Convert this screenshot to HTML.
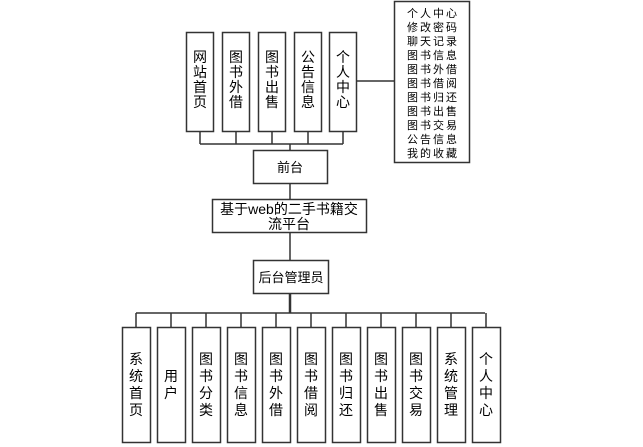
<!DOCTYPE html>
<html><head><meta charset="utf-8"><style>
body{margin:0;background:#fff;}
svg{display:block}
text{font-family:"Liberation Sans","Noto Sans CJK SC",sans-serif;fill:#000}
</style></head><body>
<svg width="643" height="447" viewBox="0 0 643 447" xmlns="http://www.w3.org/2000/svg">
<g stroke="#333" stroke-width="1.5" fill="none">
<!-- top boxes -->
<rect x="186.5" y="32.5" width="27" height="99"/>
<rect x="222.5" y="32.5" width="27" height="99"/>
<rect x="258.5" y="32.5" width="27" height="99"/>
<rect x="294.5" y="32.5" width="27" height="99"/>
<rect x="329.5" y="32.5" width="27" height="99"/>
<path d="M200 131V144M236 131V144M272 131V144M308 131V144M343 131V144M200 144H343M290 144V150"/>
<path d="M356 81H394"/>
<rect x="394.5" y="1.5" width="75" height="161"/>
<rect x="253.5" y="150.5" width="74" height="33"/>
<path d="M290 183V199"/>
<rect x="212.5" y="199.5" width="154" height="33"/>
<path d="M290 232V260"/>
<rect x="253.5" y="260.5" width="75" height="33"/>
<path d="M290 293V313" stroke-width="2.5"/>
<path d="M136 313H485"/>
<path d="M136 313V327M171 313V327M206 313V327M241 313V327M276 313V327M311 313V327M346 313V327M381 313V327M416 313V327M451 313V327M486 313V327"/>
<rect x="122.5" y="327.5" width="28" height="115"/>
<rect x="157.5" y="327.5" width="28" height="115"/>
<rect x="192.5" y="327.5" width="28" height="115"/>
<rect x="227.5" y="327.5" width="28" height="115"/>
<rect x="262.5" y="327.5" width="28" height="115"/>
<rect x="297.5" y="327.5" width="28" height="115"/>
<rect x="332.5" y="327.5" width="28" height="115"/>
<rect x="367.5" y="327.5" width="28" height="115"/>
<rect x="402.5" y="327.5" width="28" height="115"/>
<rect x="437.5" y="327.5" width="28" height="115"/>
<rect x="472.5" y="327.5" width="28" height="115"/>
</g>
<g font-size="14" text-anchor="middle">
<text x="200" y="62">网</text><text x="200" y="77">站</text><text x="200" y="92">首</text><text x="200" y="107">页</text>
<text x="236" y="62">图</text><text x="236" y="77">书</text><text x="236" y="92">外</text><text x="236" y="107">借</text>
<text x="272" y="62">图</text><text x="272" y="77">书</text><text x="272" y="92">出</text><text x="272" y="107">售</text>
<text x="308" y="62">公</text><text x="308" y="77">告</text><text x="308" y="92">信</text><text x="308" y="107">息</text>
<text x="343" y="62">个</text><text x="343" y="77">人</text><text x="343" y="92">中</text><text x="343" y="107">心</text>
<text x="290" y="172" font-size="13">前台</text>
<text x="289" y="214">基于web的二手书籍交</text>
<text x="289" y="229">流平台</text>
<text x="291" y="282" font-size="13">后台管理员</text>
</g>
<g font-size="11" text-anchor="middle" letter-spacing="2">
<text x="433" y="17">个人中心</text>
<text x="433" y="31">修改密码</text>
<text x="433" y="45">聊天记录</text>
<text x="433" y="59">图书信息</text>
<text x="433" y="73">图书外借</text>
<text x="433" y="87">图书借阅</text>
<text x="433" y="101">图书归还</text>
<text x="433" y="115">图书出售</text>
<text x="433" y="129">图书交易</text>
<text x="433" y="143">公告信息</text>
<text x="433" y="157">我的收藏</text>
</g>
<g font-size="14" text-anchor="middle">
<text x="136" y="364">系</text><text x="136" y="381">统</text><text x="136" y="398">首</text><text x="136" y="415">页</text>
<text x="171" y="381">用</text><text x="171" y="398">户</text>
<text x="206" y="364">图</text><text x="206" y="381">书</text><text x="206" y="398">分</text><text x="206" y="415">类</text>
<text x="241" y="364">图</text><text x="241" y="381">书</text><text x="241" y="398">信</text><text x="241" y="415">息</text>
<text x="276" y="364">图</text><text x="276" y="381">书</text><text x="276" y="398">外</text><text x="276" y="415">借</text>
<text x="311" y="364">图</text><text x="311" y="381">书</text><text x="311" y="398">借</text><text x="311" y="415">阅</text>
<text x="346" y="364">图</text><text x="346" y="381">书</text><text x="346" y="398">归</text><text x="346" y="415">还</text>
<text x="381" y="364">图</text><text x="381" y="381">书</text><text x="381" y="398">出</text><text x="381" y="415">售</text>
<text x="416" y="364">图</text><text x="416" y="381">书</text><text x="416" y="398">交</text><text x="416" y="415">易</text>
<text x="451" y="364">系</text><text x="451" y="381">统</text><text x="451" y="398">管</text><text x="451" y="415">理</text>
<text x="486" y="364">个</text><text x="486" y="381">人</text><text x="486" y="398">中</text><text x="486" y="415">心</text>
</g>
</svg>
</body></html>
